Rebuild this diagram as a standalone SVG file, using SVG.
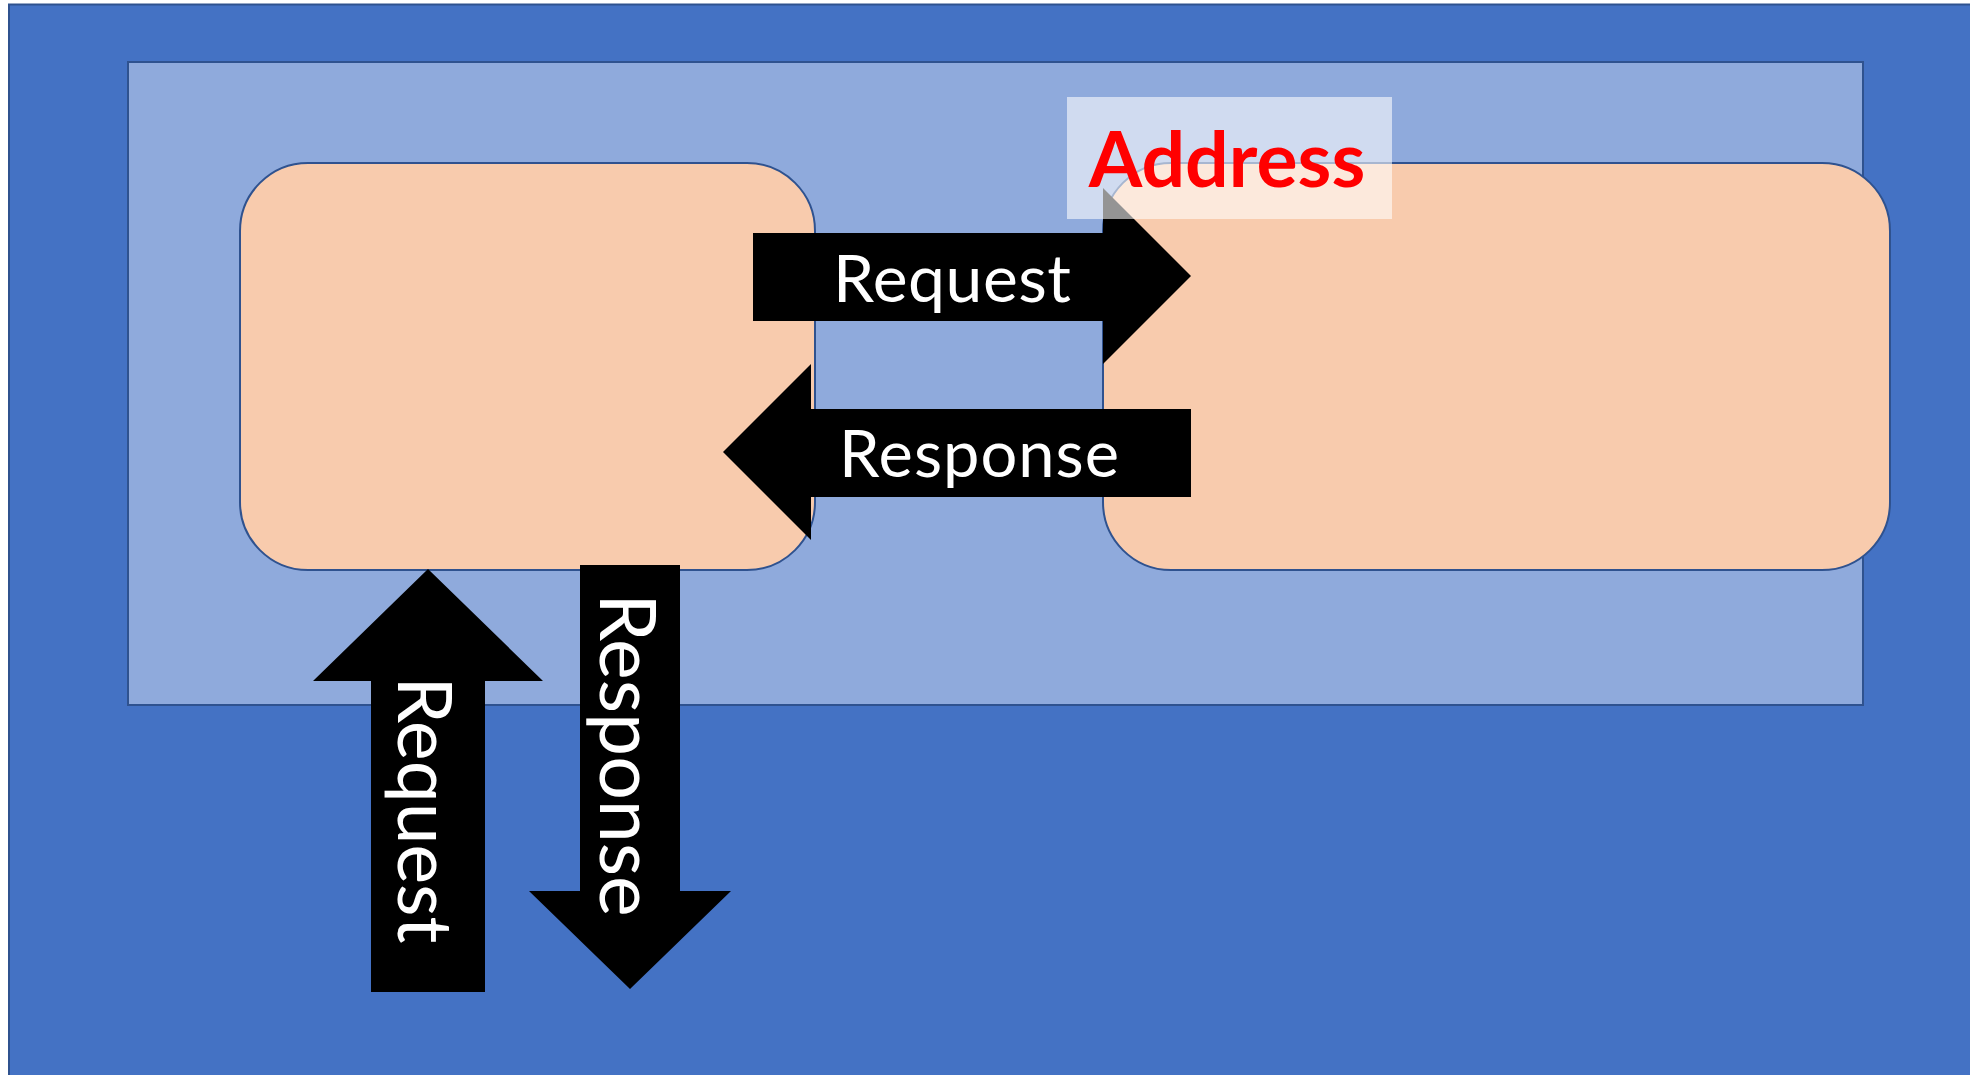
<svg xmlns="http://www.w3.org/2000/svg" width="1970" height="1075" viewBox="0 0 1970 1075">
  <style>
    .frame { stroke: #2F528F; stroke-width: 2; }
    .outer { fill: #4472C4; }
    .inner { fill: #8FAADC; }
    .host { fill: #F8CBAD; stroke: #2F528F; stroke-width: 2; }
    .arrow { fill: #000000; }
    .lbl { font-family: Lato, "Open Sans", "Liberation Sans", sans-serif; fill: #FFFFFF; text-anchor: middle; }
    .addr-bg { fill: #FFFFFF; fill-opacity: 0.58; }
    .addr { font-family: Lato, "Open Sans", "Liberation Sans", sans-serif; font-weight: bold; fill: #FF0000; text-anchor: middle; }
  </style>

  <rect width="1970" height="1075" fill="#FFFFFF"/>

  <!-- outer network area -->
  <g id="outer-area">
    <rect class="outer frame" x="9" y="4.5" width="1975" height="1085"/>
  </g>

  <!-- inner network area -->
  <g id="inner-area">
    <rect class="inner frame" x="128" y="62" width="1735" height="643"/>
  </g>

  <!-- hosts -->
  <g id="host-left">
    <rect class="host" x="240" y="163" width="575" height="407" rx="68" ry="68"/>
  </g>
  <g id="host-right">
    <rect class="host" x="1103" y="163" width="787" height="407" rx="68" ry="68"/>
  </g>

  <!-- request / response flows -->
  <g id="connectors">
    <g id="flow-request-right">
      <polygon class="arrow" points="753,233 1103,233 1103,188 1191,276 1103,364 1103,321 753,321"/>
      <text class="lbl" x="952" y="302" font-size="66" textLength="238" lengthAdjust="spacing">Request</text>
    </g>
    <g id="flow-response-left">
      <polygon class="arrow" points="1191,409 811,409 811,364 723,452 811,540 811,497 1191,497"/>
      <text class="lbl" x="979" y="477" font-size="65" textLength="280" lengthAdjust="spacing">Response</text>
    </g>
    <g id="flow-request-up">
      <polygon class="arrow" points="371,992 371,681 313,681 428,569 543,681 485,681 485,992"/>
      <text class="lbl" font-size="75" transform="translate(398,810) rotate(90)">Request</text>
    </g>
    <g id="flow-response-down">
      <polygon class="arrow" points="580,565 680,565 680,891 731,891 630,989 529,891 580,891"/>
      <text class="lbl" font-size="77" transform="translate(600,755) rotate(90)">Response</text>
    </g>
  </g>

  <!-- address label -->
  <g id="address-label">
    <rect class="addr-bg" x="1067" y="97" width="325" height="122"/>
    <text class="addr" x="1227" y="187" font-size="77">Address</text>
  </g>
</svg>
